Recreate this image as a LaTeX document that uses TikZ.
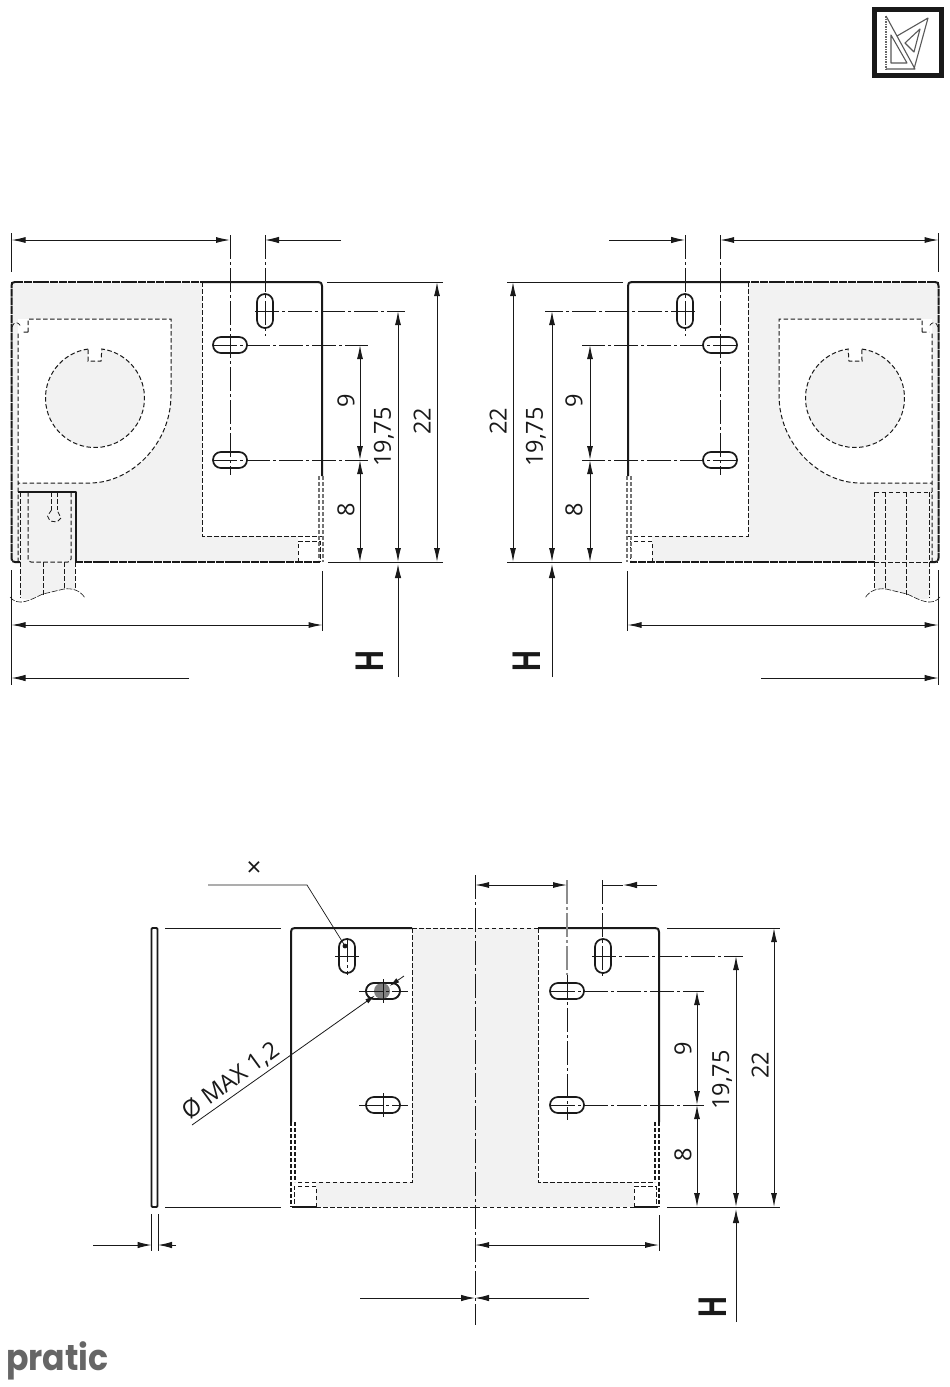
\documentclass[tikz,border=0pt]{standalone}
\usepackage{fontspec}
\setmainfont{Open Sans}
\newfontfamily\logofont{Poppins}
\newfontfamily\hfont{Liberation Sans}
\usetikzlibrary{arrows.meta}
\definecolor{lightfill}{gray}{0.95}
\definecolor{ink}{gray}{0.1}
\tikzset{
  outline/.style={draw=ink,line width=2pt,line join=round},
  outdash/.style={draw=ink,line width=2pt,dash pattern=on 8pt off 0.8pt},
  dashline/.style={draw=ink,line width=1pt,dash pattern=on 4.5pt off 2.5pt},
  greydash/.style={draw=black!55,line width=1.1pt,dash pattern=on 4pt off 2pt},
  thinline/.style={draw=ink,line width=1pt},
  centerline/.style={draw=ink,line width=0.9pt,dash pattern=on 24pt off 3pt on 3pt off 3pt},
  slotshape/.style={draw=ink,line width=1.7pt,fill=white,rounded corners=7.9pt},
  dimline/.style={draw=ink,line width=1pt},
  dimboth/.style={dimline,{Latex[length=14pt,width=6pt]}-{Latex[length=14pt,width=6pt]}},
  dimend/.style={dimline,-{Latex[length=14pt,width=6.5pt]}},
  dimlbl/.style={font=\fontsize{23.5}{24}\selectfont,text=ink,inner sep=0pt,rotate=90},
  hlbl/.style={font=\hfont\bfseries\fontsize{40}{40}\selectfont,text=ink,inner sep=0pt,rotate=90},
}
\newcommand{\slotH}[2]{\draw[slotshape] (#1-17,#2-8) rectangle (#1+17,#2+8);}
\newcommand{\slotV}[2]{\draw[slotshape] (#1-8,#2-17) rectangle (#1+8,#2+17);}
\newcommand{\sideview}{
  \fill[lightfill] (11.5,282) -- (202,282) -- (202,536) -- (298,536) -- (298,562) -- (11.5,562) -- cycle;
  \fill[lightfill] (20,562) -- (20,598) .. controls (30,602) and (38,596) .. (43,594) -- (64,589) .. controls (68,589) and (72,589) .. (75,590) -- (75,562) -- cycle;
  \fill[white] (18,319) -- (171,319) -- (171,395) .. controls (171,445) and (130,483) .. (90,483) -- (18,483) -- cycle;
  \fill[lightfill] (95,398) circle (49.5);
  \fill[white] (88,345) rectangle (101,361);
  \draw[dashline] (18,562) -- (18,332) (28,332) -- (21,332) (28,332) -- (28,319) -- (171,319) -- (171,395) .. controls (171,445) and (130,483) .. (90,483) -- (18,483);
  \draw[dashline] (88.1,349) arc[start angle=-98,end angle=-442,radius=49.5] -- (101,361) -- (88,361) -- cycle;
  \draw[dashline,line width=0.7pt] (12,327) .. controls (14,321) and (18,321) .. (21,327);
  \draw[dashline] (202,282) -- (202,536) -- (322,536);
  \draw[dashline] (298,562) -- (298,541) -- (320,541) -- (320,562);
  \draw[dashline] (20.3,492) -- (20.3,598) (43.3,562) -- (43.3,595) (64.3,562) -- (64.3,589) (75.3,562) -- (75.3,590);
  \draw[draw=ink,line width=0.6pt,dash pattern=on 6pt off 1.5pt] (10,597) .. controls (14,602) and (18,602) .. (22,602) .. controls (30,601) and (38,596) .. (43,594) -- (64,589) .. controls (72,588) and (80,590) .. (85,598);
  \draw[outline] (202,282) -- (318,282) .. controls (321,282) and (322,283) .. (322,286) -- (322,476);
  \draw[greydash] (319,476) -- (319,560) (323,476) -- (323,562);
  \draw[outdash] (15,282) -- (202,282);
  \draw[outdash] (15,282) .. controls (12,282) and (11.5,283) .. (11.5,286) -- (11.5,558) .. controls (11.5,561) and (12,562) .. (15,562) -- (20,562);
  \draw[outdash] (75,562) -- (320,562);
  \slotV{265}{311}
  \slotH{230}{345}
  \slotH{230}{460}
  \draw[centerline] (230,235) -- (230,475);
  \draw[centerline] (265,235) -- (265,336);
  \draw[centerline] (213,345) -- (368,345);
  \draw[centerline] (213,460) -- (368,460);
  \draw[centerline] (255,311) -- (405,311);
  \draw[thinline] (11.5,233) -- (11.5,272);
  \draw[thinline] (327,282) -- (443,282);
  \draw[thinline] (328,562) -- (443,562);
  \draw[thinline] (322.5,571) -- (322.5,631);
  \draw[thinline] (11.5,570) -- (11.5,685);
  \draw[dimboth] (11.5,240) -- (230,240);
  \draw[dimend] (341,240) -- (265,240);
  \draw[dimboth] (360,345) -- (360,460);
  \draw[dimboth] (360,460) -- (360,562);
  \draw[dimboth] (398,311) -- (398,562);
  \draw[dimboth] (437,282) -- (437,562);
  \draw[dimend] (398,677) -- (398,564);
  \draw[dimboth] (11.5,625) -- (322.5,625);
  \draw[dimend] (189,678) -- (11.5,678);
}
\newcommand{\plateview}{
  \slotV{347}{956}
  \slotH{383}{991}
  \slotH{383}{1105}
  \draw[outline] (412,928) -- (295,928) .. controls (292,928) and (291,929) .. (291,932) -- (291,1122);
  \draw[greydash,draw=ink] (291,1122) -- (291,1207) (295,1122) -- (295,1182);
  \draw[dashline] (412,928) -- (412,1182) -- (295,1182);
  \draw[dashline] (316,1207) -- (316,1186) -- (294,1186) -- (294,1207);
  \draw[outline] (292,1207) -- (316,1207);
  \draw[dashline] (316,1207) -- (475,1207);
  \draw[dashline] (412,928) -- (475,928);
}
\begin{document}
\begin{tikzpicture}[x=1pt,y=-1pt]
\useasboundingbox (0,0) rectangle (950,1387);
\fill[white] (0,0) rectangle (950,1387);

% icon
\draw[draw=ink,line width=5pt] (874.5,9.5) rectangle (941,75);
\draw[draw=black!60,line width=1.3pt,dash pattern=on 1.5pt off 1pt] (886,16) -- (886,69);
\draw[draw=black!65,line width=1.1pt,line join=round] (886,16) -- (915,69) -- (886,69);
\draw[draw=black!65,line width=1.1pt,line join=round] (891,35) -- (907,63) -- (891,63) -- cycle;
\draw[draw=black!65,line width=1.1pt,line join=round] (897,36) -- (928,18) -- (914,69);
\draw[draw=black!65,line width=1.1pt,line join=round] (905,43) -- (920,29) -- (914,52) -- cycle;

% side views
\sideview
\begin{scope}[shift={(950,0)},xscale=-1]
  \sideview
\end{scope}
\draw[outline,line width=1.2pt] (18,492) -- (76,492) -- (76,562);
\draw[dashline,rounded corners=3pt] (28,492) -- (28,562) -- (71,562) -- (71,492);
\draw[dashline,line width=0.8pt] (51.5,492) -- (51.5,510) (57,492) -- (57,510);
\draw[dashline,line width=0.8pt] (51.5,510) -- (47.5,516) -- (50,521) -- (57,522) -- (61,518) -- (57,510);
\draw[dashline] (874.7,492) -- (932,492) (874.7,492) -- (874.7,562) (885.7,492) -- (885.7,562) (906.7,492) -- (906.7,562) (929.7,492) -- (929.7,562);
\draw[dashline] (874,562) -- (938,562);

\node[dimlbl] (lnine) at (346,401) {9};
\node[dimlbl] (leight) at (346,510) {8};
\node[dimlbl] (lninet) at (384,437) {19,75};
\node[dimlbl] (ltwtwo) at (422,421) {22};
\node[hlbl] (lh) at (369.5,661) {\scalebox{0.72}[1]{H}};
\node[dimlbl] (rnine) at (574,401) {9};
\node[dimlbl] (reight) at (574,510) {8};
\node[dimlbl] (rninet) at (536,437) {19,75};
\node[dimlbl] (rtwtwo) at (498,421) {22};
\node[hlbl] (rh) at (527,661) {\scalebox{0.72}[1]{H}};

% plate view
\fill[lightfill] (412,928) rectangle (538,1207);
\fill[lightfill] (316,1182) rectangle (634,1207);
\plateview
\begin{scope}[shift={(950,0)},xscale=-1]
  \plateview
\end{scope}
\draw[outline,line width=1.8pt,fill=white,rounded corners=1pt] (151.5,928) rectangle (157.5,1207);

\fill[black!50] (382,991) circle (8);
\draw[slotshape,fill=none,line width=1.4pt] (366,983) rectangle (400,999);
\fill[ink] (345,946) circle (2.4);
\draw[draw=ink,line width=0.7pt] (208,885) -- (307,885) -- (345,946);
\node[font=\fontsize{26}{26}\selectfont,text=ink,inner sep=0pt] (xmark) at (254,869) {×};
\draw[draw=ink,line width=0.8pt,-{Latex[length=10pt,width=5pt]}] (192,1125) -- (375,995.5);
\draw[draw=ink,line width=0.8pt,-{Latex[length=10pt,width=5pt]}] (404,976) -- (389.5,986);
\node[font=\fontsize{23.5}{24}\selectfont,text=ink,inner sep=0pt,rotate=36] (dia) at (231,1081) {Ø MAX 1,2};

\draw[centerline] (475,875) -- (475,1325);
\draw[centerline,draw=black!45,line width=1.3pt] (567,880) -- (567,975);
\draw[centerline] (567,975) -- (567,1120);
\draw[centerline] (602,880) -- (602,976);
\draw[centerline] (347,938) -- (347,975);
\draw[thinline] (335,956) -- (359,956);
\draw[thinline] (383,979) -- (383,1003);
\draw[centerline] (359,991) -- (408,991);
\draw[centerline] (359,1105) -- (408,1105);
\draw[thinline] (383,1093) -- (383,1117);
\draw[centerline] (551,991) -- (704,991);
\draw[centerline] (551,1105) -- (704,1105);
\draw[centerline] (592,956) -- (743,956);

\draw[thinline] (165,928) -- (281,928);
\draw[thinline] (165,1207) -- (281,1207);
\draw[thinline] (667,928) -- (780,928);
\draw[thinline] (667,1207) -- (780,1207);
\draw[thinline] (151.5,1214) -- (151.5,1251);
\draw[thinline] (158,1214) -- (158,1251);
\draw[thinline] (659,1215) -- (659,1251);

\draw[dimboth] (475,885) -- (567,885);
\draw[dimend] (657,885) -- (623,885);
\draw[thinline] (623,885) -- (602,885);
\draw[dimboth] (697,991) -- (697,1105);
\draw[dimboth] (697,1105) -- (697,1207);
\draw[dimboth] (736,956) -- (736,1207);
\draw[dimboth] (774,928) -- (774,1207);
\draw[dimend] (736,1322) -- (736,1209);
\draw[dimboth] (475,1245) -- (659,1245);
\draw[dimend] (360,1298) -- (475,1298);
\draw[dimend] (589,1298) -- (475,1298);
\draw[dimend] (93,1245) -- (151.5,1245);
\draw[dimend] (176,1245) -- (158,1245);

\node[dimlbl] (pnine) at (683,1049) {9};
\node[dimlbl] (peight) at (683,1155) {8};
\node[dimlbl] (pninet) at (722,1080) {19,75};
\node[dimlbl] (ptwtwo) at (760,1065) {22};
\node[hlbl] (ph) at (712.5,1307) {\scalebox{0.72}[1]{H}};

% logo
\node[font=\logofont\bfseries\fontsize{36}{36}\selectfont,text=black!60,inner sep=0pt,anchor=base west] (logo) at (6,1370) {\scalebox{0.92}[1]{pratic}};
\end{tikzpicture}
\end{document}
